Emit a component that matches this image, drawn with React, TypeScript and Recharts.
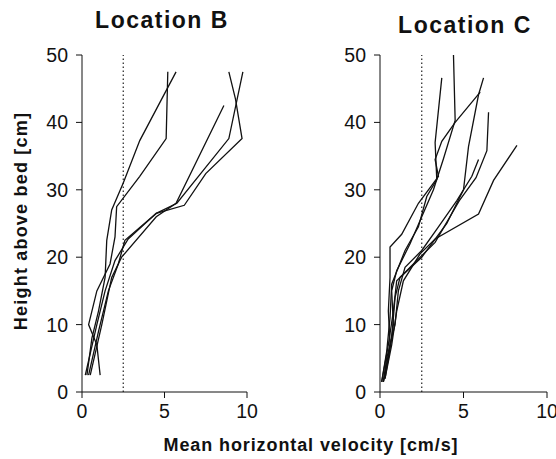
import React from "react";
import { LineChart, Line, XAxis, YAxis, ReferenceLine } from "recharts";

// velocity profiles: v = mean horizontal velocity [cm/s], h = height above bed [cm]
const profilesB = [
  [
    { v: 1.1, h: 2.5 }, { v: 0.9, h: 7 }, { v: 0.4, h: 10 }, { v: 0.9, h: 15 },
    { v: 1.7, h: 19 }, { v: 2.0, h: 23 }, { v: 2.1, h: 27.5 }, { v: 3.5, h: 32 },
    { v: 5.1, h: 37.6 }, { v: 5.2, h: 47.5 },
  ],
  [
    { v: 0.3, h: 2.5 }, { v: 0.6, h: 8 }, { v: 1.0, h: 12 }, { v: 1.4, h: 17 },
    { v: 1.5, h: 22.5 }, { v: 1.8, h: 27 }, { v: 2.5, h: 31 }, { v: 3.5, h: 37.3 },
    { v: 5.7, h: 47.5 },
  ],
  [
    { v: 0.4, h: 2.5 }, { v: 1.0, h: 9 }, { v: 1.6, h: 15 }, { v: 2.2, h: 19 },
    { v: 2.6, h: 22.5 }, { v: 4.5, h: 26.5 }, { v: 6.2, h: 27.7 }, { v: 7.5, h: 32.4 },
    { v: 9.7, h: 37.6 }, { v: 9.3, h: 43.5 }, { v: 8.9, h: 47.5 },
  ],
  [
    { v: 0.2, h: 2.5 }, { v: 0.9, h: 10 }, { v: 1.4, h: 15 }, { v: 2.0, h: 19.5 },
    { v: 2.8, h: 22.7 }, { v: 4.5, h: 26.5 }, { v: 5.75, h: 28 }, { v: 8.9, h: 37.6 },
    { v: 9.75, h: 47.5 },
  ],
  [
    { v: 0.5, h: 2.5 }, { v: 1.2, h: 10 }, { v: 1.8, h: 17 }, { v: 2.4, h: 20 },
    { v: 4.5, h: 26 }, { v: 5.7, h: 28 }, { v: 8.6, h: 42.5 },
  ],
];

const profilesC = [
  [
    { v: 0.2, h: 1.5 }, { v: 0.5, h: 5 }, { v: 0.8, h: 10 }, { v: 0.7, h: 15 },
    { v: 1.0, h: 18 }, { v: 1.8, h: 22 }, { v: 2.5, h: 26 }, { v: 3.2, h: 30 },
    { v: 3.8, h: 34.6 }, { v: 4.5, h: 40.3 }, { v: 4.4, h: 50 },
  ],
  [
    { v: 0.1, h: 1.5 }, { v: 0.4, h: 6 }, { v: 0.6, h: 11 }, { v: 0.7, h: 16 },
    { v: 1.5, h: 21 }, { v: 2.3, h: 24.5 }, { v: 2.8, h: 29 }, { v: 3.4, h: 31.5 },
    { v: 3.3, h: 37 }, { v: 3.7, h: 46.6 },
  ],
  [
    { v: 0.3, h: 2 }, { v: 0.7, h: 8 }, { v: 0.9, h: 14 }, { v: 1.2, h: 17 },
    { v: 2.5, h: 20 }, { v: 4.0, h: 25 }, { v: 5.0, h: 30 }, { v: 5.3, h: 36.4 },
    { v: 5.9, h: 44.1 }, { v: 6.2, h: 46.6 },
  ],
  [
    { v: 0.2, h: 1.5 }, { v: 0.6, h: 7 }, { v: 0.5, h: 12 }, { v: 0.6, h: 17 },
    { v: 0.6, h: 21.5 }, { v: 1.3, h: 23.4 }, { v: 2.3, h: 28 }, { v: 3.2, h: 31 },
    { v: 3.5, h: 32 }, { v: 3.3, h: 34.5 }, { v: 3.7, h: 37.2 }, { v: 4.5, h: 40 },
    { v: 6.0, h: 44.5 },
  ],
  [
    { v: 0.1, h: 1.5 }, { v: 0.5, h: 7 }, { v: 0.8, h: 12 }, { v: 1.0, h: 16.5 },
    { v: 2.0, h: 19 }, { v: 3.3, h: 22.2 }, { v: 4.75, h: 28.4 }, { v: 5.75, h: 31.8 },
    { v: 6.4, h: 35.8 }, { v: 6.5, h: 41.5 },
  ],
  [
    { v: 0.3, h: 2 }, { v: 0.7, h: 7 }, { v: 1.0, h: 12 }, { v: 1.4, h: 16.5 },
    { v: 2.4, h: 20.5 }, { v: 3.3, h: 22.7 }, { v: 5.9, h: 26.4 }, { v: 6.8, h: 31.4 },
    { v: 8.2, h: 36.6 },
  ],
  [
    { v: 0.2, h: 1.5 }, { v: 0.4, h: 5 }, { v: 0.9, h: 10 }, { v: 1.1, h: 15 },
    { v: 1.5, h: 18.5 }, { v: 2.5, h: 21 }, { v: 3.5, h: 24.5 }, { v: 4.6, h: 28.4 },
    { v: 5.5, h: 32 }, { v: 5.9, h: 34.5 },
  ],
];

const xTicks = [0, 5, 10];
const yTicks = [0, 10, 20, 30, 40, 50];
const threshold = 2.5;

const font = "'Liberation Sans', Arial, sans-serif";
const tickStyle = { fill: "#111", fontSize: 19.5, fontFamily: font };

function Panel({ profiles, left, marginLeft }: { profiles: { v: number; h: number }[][]; left: number; marginLeft: number }) {
  return (
    <div style={{ position: "absolute", left, top: 0 }}>
      <LineChart width={260} height={430} margin={{ top: 55, right: 13, bottom: 8, left: marginLeft }}>
        <XAxis
          type="number"
          dataKey="v"
          domain={[0, 10]}
          ticks={xTicks}
          height={30}
          tickSize={6}
          tickMargin={6}
          stroke="#111"
          tick={tickStyle}
          allowDuplicatedCategory={false}
        />
        <YAxis
          type="number"
          dataKey="h"
          domain={[0, 50]}
          ticks={yTicks}
          width={62}
          tickSize={6}
          tickMargin={8}
          stroke="#111"
          tick={tickStyle}
        />
        <ReferenceLine x={threshold} stroke="#222" strokeDasharray="1.5 2.5" strokeWidth={1.2} />
        {profiles.map((p, i) => (
          <Line
            key={i}
            data={p}
            dataKey="h"
            type="linear"
            stroke="#111"
            strokeWidth={1.3}
            dot={false}
            isAnimationActive={false}
          />
        ))}
      </LineChart>
    </div>
  );
}

const titleStyle: React.CSSProperties = {
  position: "absolute",
  width: 220,
  textAlign: "center",
  fontWeight: "bold",
  fontSize: 23,
  letterSpacing: 1.5,
  lineHeight: "26px",
  color: "#111",
};

export default function App() {
  return (
    <div style={{ position: "absolute", left: 0, top: 0, width: 556, height: 459, background: "#fff", fontFamily: font }}>
      <Panel profiles={profilesB} left={0} marginLeft={20} />
      <Panel profiles={profilesC} left={300} marginLeft={18} />
      <div style={{ ...titleStyle, left: 52, top: 7 }}>Location B</div>
      <div style={{ ...titleStyle, left: 355, top: 12 }}>Location C</div>
      <div
        style={{
          position: "absolute",
          left: 21 - 130,
          top: 221 - 11,
          width: 260,
          height: 22,
          lineHeight: "22px",
          textAlign: "center",
          transform: "rotate(-90deg)",
          fontWeight: "bold",
          fontSize: 18,
          letterSpacing: 1.2,
          color: "#111",
        }}
      >
        Height above bed [cm]
      </div>
      <div
        style={{
          position: "absolute",
          left: 111,
          width: 400,
          top: 434,
          lineHeight: "22px",
          textAlign: "center",
          fontWeight: "bold",
          fontSize: 18,
          letterSpacing: 0.9,
          color: "#111",
        }}
      >
        Mean horizontal velocity [cm/s]
      </div>
    </div>
  );
}
